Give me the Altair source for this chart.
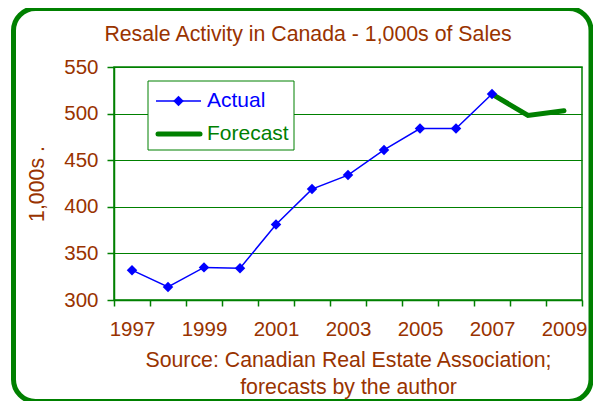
import altair as alt
import pandas as pd

# ---- data ----
years = [str(y) for y in range(1997, 2010)]
actual_years = years[:11]
actual_values = [332, 314, 335, 334, 381, 419, 434, 461, 484, 484, 521]
forecast_years = ["2007", "2008", "2009"]
forecast_values = [521, 498, 503]
legend_labels = ["Actual", "Forecast"]

title_text = "Resale Activity in Canada - 1,000s of Sales"
y_title = "1,000s ."
x_title = ["Source: Canadian Real Estate Association;", "forecasts by the author"]

BLUE = "#0000FF"
GREEN = "#008000"
BROWN = "#993300"
FONT = "Liberation Sans"

actual_df = pd.DataFrame({"year": actual_years, "value": actual_values})
forecast_df = pd.DataFrame({"year": forecast_years, "value": forecast_values})
one = pd.DataFrame({"k": [0]})

W, H = 468, 233

x_enc = alt.X(
    "year:N",
    scale=alt.Scale(type="band", domain=years, paddingInner=0, paddingOuter=0),
    axis=alt.Axis(
        title=x_title,
        tickBand="extent",
        labelAngle=0,
        labelExpr="toNumber(datum.value) % 2 == 1 ? datum.label : ''",
        tickSize=6,
        labelPadding=13,
        titlePadding=10,
        titleLineHeight=27,
        grid=False,
    ),
)
y_enc = alt.Y(
    "value:Q",
    scale=alt.Scale(domain=[300, 550], nice=False, zero=False),
    axis=alt.Axis(
        title=y_title,
        values=[300, 350, 400, 450, 500, 550],
        tickSize=7,
        labelPadding=9,
        titlePadding=16,
        grid=True,
    ),
)

border = alt.Chart(one).mark_rect(
    fill=None, stroke=GREEN, strokeWidth=5, cornerRadius=22, clip=False
).encode(
    x=alt.value(-100.5), x2=alt.value(477), y=alt.value(-58.5), y2=alt.value(334.5)
)

title = alt.Chart(one).mark_text(
    text=title_text, color=BROWN, font=FONT, fontSize=21.3, align="center", baseline="alphabetic"
).encode(x=alt.value(194), y=alt.value(-26))

forecast = alt.Chart(forecast_df).mark_line(
    color=GREEN, strokeWidth=5, strokeCap="round"
).encode(x=x_enc, y=y_enc)

actual_line = alt.Chart(actual_df).mark_line(color=BLUE, strokeWidth=1.5).encode(
    x=x_enc, y=y_enc
)
actual_pts = alt.Chart(actual_df).mark_point(
    shape="diamond", filled=True, color=BLUE, size=110, opacity=1
).encode(x=x_enc, y=y_enc)

# manual legend
leg_box = alt.Chart(one).mark_rect(
    fill="white", stroke=GREEN, strokeWidth=1
).encode(x=alt.value(34), x2=alt.value(180), y=alt.value(14), y2=alt.value(83))
leg_l1 = alt.Chart(one).mark_rule(color=BLUE, strokeWidth=1.5).encode(
    x=alt.value(42), x2=alt.value(87), y=alt.value(34)
)
leg_p1 = alt.Chart(one).mark_point(
    shape="diamond", filled=True, color=BLUE, size=110, opacity=1
).encode(x=alt.value(64.5), y=alt.value(34))
leg_l2 = alt.Chart(one).mark_rule(color=GREEN, strokeWidth=5, strokeCap="round").encode(
    x=alt.value(44), x2=alt.value(86), y=alt.value(67)
)
leg_t1 = alt.Chart(one).mark_text(
    text=legend_labels[0], color=BLUE, font=FONT, fontSize=21, align="left", baseline="alphabetic"
).encode(x=alt.value(93), y=alt.value(40))
leg_t2 = alt.Chart(one).mark_text(
    text=legend_labels[1], color=GREEN, font=FONT, fontSize=21, align="left", baseline="alphabetic"
).encode(x=alt.value(93), y=alt.value(73))

chart = alt.layer(
    border, title, forecast, actual_line, actual_pts,
    leg_box, leg_l1, leg_p1, leg_l2, leg_t1, leg_t2,
).properties(
    width=W,
    height=H,
    padding={"left": 106, "top": 59, "right": 11, "bottom": 101},
    autosize=alt.AutoSizeParams(type="none"),
    background="white",
).configure_axis(
    labelFont=FONT, labelFontSize=20.5, labelColor=BROWN,
    titleFont=FONT, titleFontSize=21.3, titleFontWeight="normal", titleColor=BROWN,
    domainColor=GREEN, domainWidth=1.5, tickColor=GREEN, tickWidth=1.5,
    gridColor=GREEN, gridWidth=1, gridOpacity=1,
).configure_view(
    stroke=GREEN, strokeWidth=1.5
)

chart.save("out.html", embed_options={"renderer": "svg", "actions": False})
